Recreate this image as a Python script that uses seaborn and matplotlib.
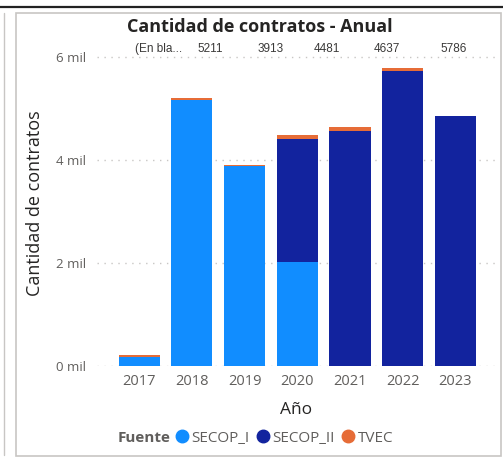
import numpy as np
import pandas as pd
import matplotlib
matplotlib.use("Agg")
import matplotlib.pyplot as plt
import matplotlib.patches as patches
from matplotlib.lines import Line2D
import seaborn as sns

# datos
anios = ["2017", "2018", "2019", "2020", "2021", "2022", "2023"]
secop_i = [175, 5165, 3880, 2020, 0, 0, 0]
secop_ii = [0, 0, 0, 2400, 4568, 5742, 4862]
tvec = [33, 46, 33, 61, 69, 44, 0]
etiquetas_sup = ["(En bla...", "5211", "3913", "4481", "4637", "5786"]
etiqueta_x = [0.36, 1.35, 2.50, 3.56, 4.70, 5.97]

col_i = "#118DFF"
col_ii = "#12239E"
col_tvec = "#E66C37"
gris = "#605E5C"
oscuro = "#252423"

df = pd.DataFrame({"Año": anios, "SECOP_I": secop_i,
                   "SECOP_II": secop_ii, "TVEC": tvec})
df["acum_ii"] = df["SECOP_I"] + df["SECOP_II"]
df["total"] = df["acum_ii"] + df["TVEC"]

sns.set_style("white")
plt.rcParams["font.family"] = ["Open Sans", "DejaVu Sans"]

W, H = 503, 459
fig = plt.figure(figsize=(W / 100, H / 100), dpi=100)
fig.patch.set_facecolor("white")

# marcos del panel
fig.add_artist(Line2D([0, 1], [1 - 7 / H, 1 - 7 / H], color="#222222", lw=1.6))
fig.add_artist(Line2D([3.5 / W, 3.5 / W], [1 - 13 / H, 1 - 455 / H], color="#C8C6C4", lw=1))
fig.add_artist(patches.Rectangle((16 / W, 1 - 456 / H), 485 / W, 443 / H,
                                 fill=False, edgecolor="#C8C6C4", lw=1.2))

ax = fig.add_axes([97 / W, 1 - 366 / H, 398 / W, 326 / H])

# barras apiladas: total -> SECOP_I+SECOP_II -> SECOP_I
sns.barplot(data=df, x="Año", y="total", color=col_tvec, width=0.78,
            saturation=1, ax=ax, linewidth=0)
sns.barplot(data=df, x="Año", y="acum_ii", color=col_ii, width=0.78,
            saturation=1, ax=ax, linewidth=0)
sns.barplot(data=df, x="Año", y="SECOP_I", color=col_i, width=0.78,
            saturation=1, ax=ax, linewidth=0)

ax.set_xlim(-0.80, 6.75)
ax.set_ylim(0, 6336)
ticks = [0, 2000, 4000, 6000]
ax.set_yticks(ticks)
ax.set_yticklabels([f"{t // 1000} mil" for t in ticks])
ax.tick_params(axis="y", length=0, pad=8, labelsize=9.5, labelcolor=gris)
ax.tick_params(axis="x", length=0, pad=6, labelsize=10.5, labelcolor=gris)
ax.yaxis.grid(True, color="#C8C6C4", linestyle=(0, (1, 4)), lw=1)
ax.set_axisbelow(True)
for s in ax.spines.values():
    s.set_visible(False)

ax.set_xlabel("Año", fontsize=12.5, color=oscuro)
ax.xaxis.set_label_coords(0.5, -0.11)
ax.set_ylabel("Cantidad de contratos", fontsize=13, color=oscuro)
ax.yaxis.set_label_coords(-0.133, 0.5)

for xi, txt in zip(etiqueta_x, etiquetas_sup):
    ax.text(xi, 6160, txt, ha="center", va="center", fontsize=8.5,
            color="#3B3A39", family=["Liberation Sans", "DejaVu Sans"])

fig.text(260 / W, 1 - 27 / H, "Cantidad de contratos - Anual", ha="center",
         va="center", fontsize=13, fontweight="bold", color=oscuro)

# leyenda
fig.text(118 / W, 1 - 438 / H, "Fuente", ha="left", va="center",
         fontsize=11, fontweight="bold", color=gris)
handles = [Line2D([], [], marker="o", linestyle="", markersize=9,
                  markerfacecolor=c, markeredgecolor=c)
           for c in [col_i, col_ii, col_tvec]]
fig.legend(handles, ["SECOP_I", "SECOP_II", "TVEC"], loc="center left",
           bbox_to_anchor=(176 / W, 1 - 438 / H), ncol=3, frameon=False,
           fontsize=11, labelcolor=gris, handlelength=0.8, handletextpad=0.2,
           columnspacing=0.5, borderpad=0, borderaxespad=0)

fig.savefig("out.png", dpi=100)
